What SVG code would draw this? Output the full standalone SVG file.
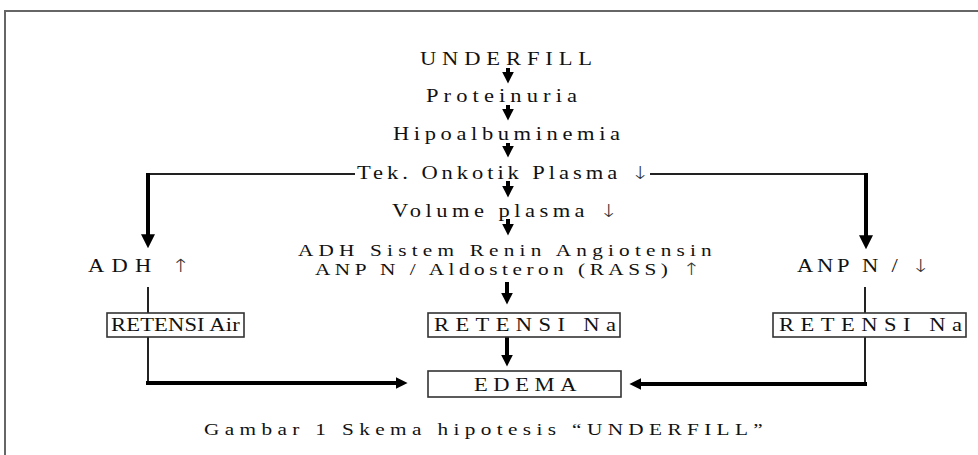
<svg xmlns="http://www.w3.org/2000/svg" width="978" height="455" viewBox="0 0 978 455">
<style>
text{font-family:"Liberation Serif","Times New Roman",serif;font-size:18px;fill:#111}
.cap{font-size:17px}
.sm{font-size:17px}
.ar{font-family:"DejaVu Sans","Liberation Sans",sans-serif;font-weight:300;fill:#333}
.thin{stroke:#222;stroke-width:2;fill:none}
.thick{stroke:#000;stroke-width:4;fill:none}
.box{fill:#fff;stroke:#333;stroke-width:1.6}
.frame{stroke:#666;stroke-width:2;fill:none}
</style>
<defs>
<marker id="ah" viewBox="0 0 10 10" refX="2" refY="5" markerWidth="12" markerHeight="15" markerUnits="userSpaceOnUse" orient="auto">
<path d="M0,0 L10,5 L0,10 z" fill="#000"/>
</marker>
<marker id="ahL" viewBox="0 0 10 10" refX="2" refY="5" markerWidth="14" markerHeight="16" markerUnits="userSpaceOnUse" orient="auto">
<path d="M0,0 L10,5 L0,10 z" fill="#000"/>
</marker>
</defs>
<path class="frame" d="M5,455 V11 H978"/>
<g id="connectors">
<line class="thick" x1="508" y1="68" x2="508" y2="74" marker-end="url(#ah)"/>
<line class="thick" x1="508" y1="105" x2="508" y2="111" marker-end="url(#ah)"/>
<line class="thick" x1="508" y1="143" x2="508" y2="148" marker-end="url(#ah)"/>
<line class="thick" x1="508" y1="181" x2="508" y2="188" marker-end="url(#ah)"/>
<line class="thick" x1="508" y1="219" x2="508" y2="226" marker-end="url(#ah)"/>
<line class="thick" x1="507" y1="282" x2="507" y2="295" marker-end="url(#ah)"/>
<line class="thick" x1="507" y1="337" x2="507" y2="357" marker-end="url(#ah)"/>
<path class="thin" d="M355,174 H148"/>
<path class="thin" d="M650,174 H866"/>
<line class="thick" x1="148" y1="173" x2="148" y2="237" marker-end="url(#ahL)"/>
<line class="thick" x1="866" y1="173" x2="866" y2="238" marker-end="url(#ahL)"/>
<line class="thin" x1="148" y1="287" x2="148" y2="313"/>
<line class="thin" x1="865" y1="287" x2="865" y2="313"/>
<path class="thin" d="M148,337 V383"/>
<path class="thin" d="M865,337 V384"/>
<line class="thick" x1="146" y1="383" x2="398" y2="383" marker-end="url(#ah)"/>
<line class="thick" x1="867" y1="384" x2="639" y2="384" marker-end="url(#ah)"/>
</g>
<g id="underfill"><text transform="translate(420,65) scale(1.25,1)" textLength="137.6" lengthAdjust="spacing">UNDERFILL</text></g>
<g id="proteinuria"><text transform="translate(426,102) scale(1.25,1)" textLength="120.8" lengthAdjust="spacing">Proteinuria</text></g>
<g id="hipoalbuminemia"><text transform="translate(393,140) scale(1.25,1)" textLength="181.6" lengthAdjust="spacing">Hipoalbuminemia</text></g>
<g id="onkotik"><text transform="translate(357,179) scale(1.25,1)" textLength="234" lengthAdjust="spacing">Tek. Onkotik Plasma <tspan class="ar">↓</tspan></text></g>
<g id="volume"><text transform="translate(392,217) scale(1.25,1)" textLength="180.8" lengthAdjust="spacing">Volume plasma <tspan class="ar">↓</tspan></text></g>
<g id="rass">
<text class="sm" transform="translate(298,256) scale(1.25,1)" textLength="331" lengthAdjust="spacing">ADH Sistem Renin Angiotensin</text>
<text class="sm" transform="translate(315,275) scale(1.25,1)" textLength="308" lengthAdjust="spacing">ANP N / Aldosteron (RASS) <tspan class="ar">↑</tspan></text>
</g>
<g id="adh"><text transform="translate(88,272) scale(1.25,1)" textLength="81.6" lengthAdjust="spacing">ADH <tspan class="ar">↑</tspan></text></g>
<g id="anp"><text transform="translate(797,272) scale(1.25,1)" textLength="106.4" lengthAdjust="spacing">ANP N / <tspan class="ar">↓</tspan></text></g>
<g id="retensi-air">
<rect class="box" x="107" y="313" width="137" height="24"/>
<text transform="translate(111,331) scale(1.25,1)" textLength="103" lengthAdjust="spacing">RETENSI Air</text>
</g>
<g id="retensi-na-center">
<rect class="box" x="428" y="313" width="192" height="24"/>
<text transform="translate(434,331) scale(1.25,1)" textLength="145.6" lengthAdjust="spacing">RETENSI Na</text>
</g>
<g id="retensi-na-right">
<rect class="box" x="773" y="313" width="193" height="24"/>
<text transform="translate(779,331) scale(1.25,1)" textLength="146.4" lengthAdjust="spacing">RETENSI Na</text>
</g>
<g id="edema">
<rect class="box" x="428" y="371" width="193" height="26"/>
<text transform="translate(474,391) scale(1.25,1)" textLength="82" lengthAdjust="spacing">EDEMA</text>
</g>
<g id="caption"><text class="cap" transform="translate(204,435) scale(1.25,1)" textLength="447" lengthAdjust="spacing">Gambar 1 Skema hipotesis “UNDERFILL”</text></g>
</svg>
